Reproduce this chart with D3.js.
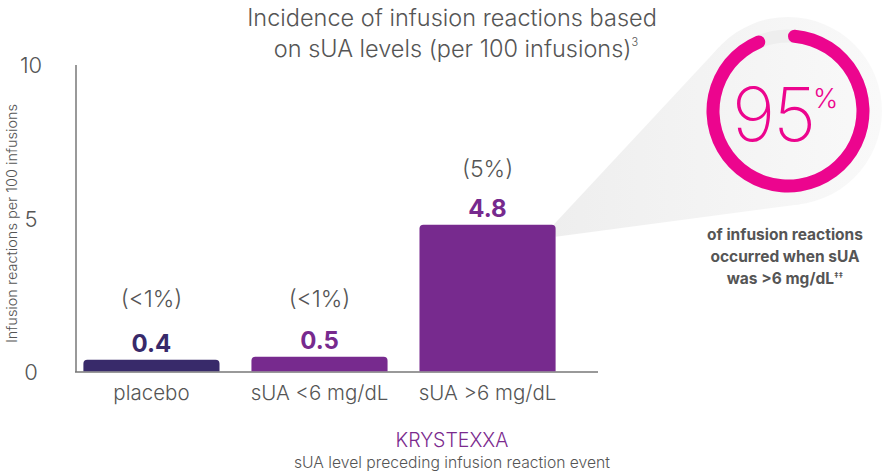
<!DOCTYPE html>
<html>
<head>
<meta charset="utf-8">
<script src="https://cdn.jsdelivr.net/npm/d3@7"></script>
<style>
  body { margin: 0; background: #fff; }
  svg { display: block; font-family: Inter, Lato, sans-serif; }
</style>
</head>
<body>
<div id="chart"></div>
<script>
// data
const categories = ["placebo", "sUA <6 mg/dL", "sUA >6 mg/dL"];
const values = [0.4, 0.5, 4.8];
const valueLabels = ["0.4", "0.5", "4.8"];
const pctLabels = ["(<1%)", "(<1%)", "(5%)"];
const yTicks = [0, 5, 10];
const shareAbove6 = 95;
const titleLines = ["Incidence of infusion reactions based", "on sUA levels (per 100 infusions)"];
const calloutLines = ["of infusion reactions", "occurred when sUA", "was >6 mg/dL"];

// properties
let width = 890,
    height = 474,
    barColors = ["#382a6a", "#772a8e", "#772a8e"],
    grey = "#555555",
    pink = "#ec058e";

const svg = d3.select("#chart").append("svg")
    .attr("width", width)
    .attr("height", height);

// scales
// ---------------------------------------------------
let x = d3.scaleBand()
    .domain(categories)
    .range([75, 564])
    .paddingInner(0.19)
    .paddingOuter(0.05);

let y = d3.scaleLinear()
    .domain([0, 10])
    .range([372, 65]);

// spotlight from tallest bar to the ring
// ---------------------------------------------------
const cx = 788, cy = 111, ringR = 75, glowR = 94;
const last = categories[categories.length - 1];
const p1 = [x(last) + x.bandwidth() - 2, y(values[2])];
const p2 = [x(last) + x.bandwidth(), y(values[2]) + 12];

function tangent(p, side) {
    let dx = p[0] - cx, dy = p[1] - cy;
    let d = Math.hypot(dx, dy);
    let a = Math.atan2(dy, dx) + side * Math.acos(glowR / d);
    return [cx + glowR * Math.cos(a), cy + glowR * Math.sin(a)];
}

const defs = svg.append("defs");
const grad = defs.append("linearGradient")
    .attr("id", "glow")
    .attr("gradientUnits", "userSpaceOnUse")
    .attr("x1", 550).attr("x2", 880).attr("y1", 0).attr("y2", 0);
grad.append("stop").attr("offset", "0%").attr("stop-color", "#eeeeee");
grad.append("stop").attr("offset", "100%").attr("stop-color", "#f9f9f9");

const glow = svg.append("g").attr("fill", "url(#glow)");
glow.append("path")
    .attr("d", d3.line()([p1, tangent(p1, 1), [cx, cy], tangent(p2, -1), p2]));
glow.append("circle")
    .attr("cx", cx).attr("cy", cy).attr("r", glowR);

// axes
// ---------------------------------------------------
svg.append("line")
    .attr("x1", 76).attr("x2", 76)
    .attr("y1", y(10)).attr("y2", y(0))
    .attr("stroke", "#777").attr("stroke-width", 1.5);

svg.append("line")
    .attr("x1", 75).attr("x2", 598)
    .attr("y1", y(0)).attr("y2", y(0))
    .attr("stroke", "#777").attr("stroke-width", 1.5);

svg.selectAll(".yTick")
    .data(yTicks)
    .enter()
    .append("text")
        .attr("class", "yTick")
        .attr("x", 31)
        .attr("y", d => y(d) + 8)
        .attr("text-anchor", "middle")
        .attr("font-size", 22)
        .attr("font-weight", 300)
        .attr("fill", grey)
        .text(d => d);

svg.append("text")
    .attr("transform", `translate(17,${y(5) + 5}) rotate(-90)`)
    .attr("text-anchor", "middle")
    .attr("font-size", 14.5)
    .attr("font-weight", 300)
    .attr("fill", grey)
    .text("Infusion reactions per 100 infusions");

svg.selectAll(".xLabel")
    .data(categories)
    .enter()
    .append("text")
        .attr("class", "xLabel")
        .attr("x", d => x(d) + x.bandwidth() / 2)
        .attr("y", 400)
        .attr("text-anchor", "middle")
        .attr("font-size", 20.5)
        .attr("font-weight", 300)
        .attr("fill", grey)
        .text(d => d);

// bars
// ---------------------------------------------------
const r = 4;
svg.selectAll(".bar")
    .data(values)
    .enter()
    .append("path")
        .attr("class", "bar")
        .attr("fill", (d, i) => barColors[i])
        .attr("d", (d, i) => {
            let x0 = x(categories[i]), x1 = x0 + x.bandwidth();
            let y0 = y(d), y1 = y(0) - 0.75;
            return `M${x0},${y1}V${y0 + r}Q${x0},${y0} ${x0 + r},${y0}` +
                   `H${x1 - r}Q${x1},${y0} ${x1},${y0 + r}V${y1}Z`;
        });

svg.selectAll(".valueLabel")
    .data(values)
    .enter()
    .append("text")
        .attr("class", "valueLabel")
        .attr("x", (d, i) => x(categories[i]) + x.bandwidth() / 2)
        .attr("y", d => y(d) - 8)
        .attr("text-anchor", "middle")
        .attr("font-size", 24)
        .attr("font-weight", 700)
        .attr("fill", (d, i) => barColors[i])
        .text((d, i) => valueLabels[i]);

svg.selectAll(".pctLabel")
    .data(values)
    .enter()
    .append("text")
        .attr("class", "pctLabel")
        .attr("x", (d, i) => x(categories[i]) + x.bandwidth() / 2)
        .attr("y", d => Math.min(y(d) - 48, 307))
        .attr("text-anchor", "middle")
        .attr("font-size", 23)
        .attr("font-weight", 300)
        .attr("fill", grey)
        .text((d, i) => pctLabels[i]);

// title
// ---------------------------------------------------
const title = svg.append("text")
    .attr("text-anchor", "middle")
    .attr("font-size", 23.5)
    .attr("font-weight", 300)
    .attr("fill", grey);
title.append("tspan").attr("x", 452).attr("y", 26).text(titleLines[0]);
title.append("tspan").attr("x", 456).attr("y", 57).text(titleLines[1]);
title.append("tspan").attr("dy", -11).attr("font-size", 11).text("3");

// x-axis group title
svg.append("text")
    .attr("x", 452).attr("y", 447)
    .attr("text-anchor", "middle")
    .attr("font-size", 19.5)
    .attr("font-weight", 300)
    .attr("fill", "#7b2a8e")
    .text("KRYSTEXXA");

svg.append("text")
    .attr("x", 452).attr("y", 468)
    .attr("text-anchor", "middle")
    .attr("font-size", 15.7)
    .attr("font-weight", 300)
    .attr("fill", grey)
    .text("sUA level preceding infusion reaction event");

// ring
// ---------------------------------------------------
const ring = svg.append("g").attr("transform", `translate(${cx},${cy})`);
const arc = d3.arc()
    .innerRadius(ringR - 6.5)
    .outerRadius(ringR + 6.5)
    .cornerRadius(6.5);

ring.append("path")
    .attr("d", d3.arc().innerRadius(ringR - 6.5).outerRadius(ringR + 6.5)
        .startAngle(0).endAngle(2 * Math.PI)())
    .attr("fill", "#eeeeee");

ring.append("path")
    .attr("d", arc.startAngle(0).endAngle(2 * Math.PI * shareAbove6 / 100)())
    .attr("fill", pink);

ring.append("text")
    .attr("x", -15).attr("y", 30)
    .attr("text-anchor", "middle")
    .attr("font-size", 74)
    .attr("font-weight", 200)
    .attr("letter-spacing", -2)
    .attr("fill", pink)
    .text(shareAbove6);

ring.append("text")
    .attr("x", 25).attr("y", -3)
    .attr("font-size", 27)
    .attr("font-weight", 300)
    .attr("fill", pink)
    .text("%");

const callout = svg.append("text")
    .attr("text-anchor", "middle")
    .attr("font-size", 15.5)
    .attr("font-weight", 700)
    .attr("fill", grey);
calloutLines.forEach((l, i) => {
    callout.append("tspan")
        .attr("x", 785)
        .attr("y", 240 + i * 22)
        .text(l);
});
callout.append("tspan").attr("dy", -6).attr("font-size", 8).text("‡‡");
</script>
</body>
</html>
